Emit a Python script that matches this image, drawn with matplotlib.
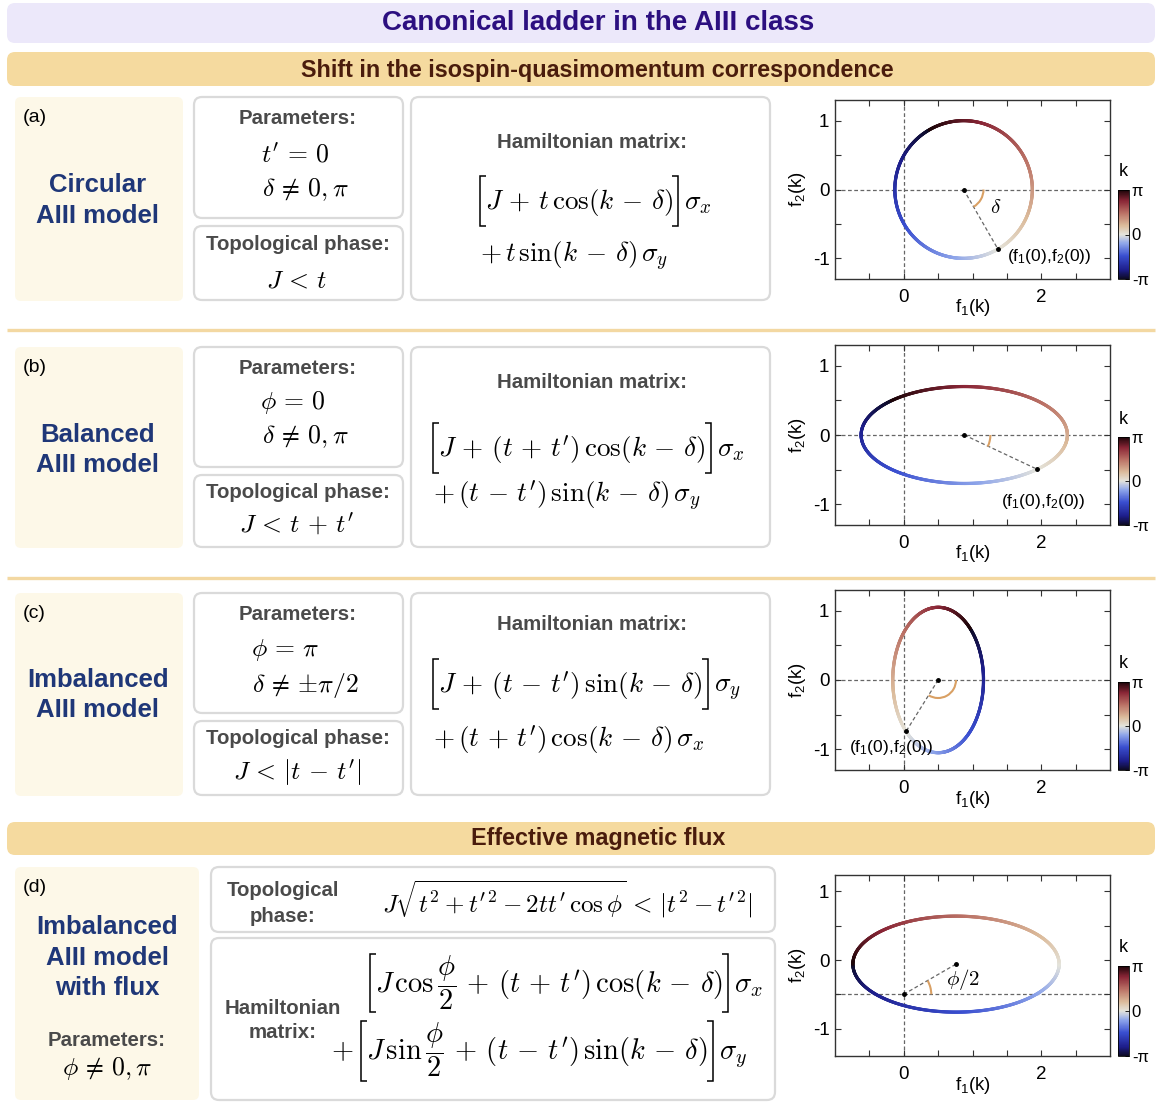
import numpy as np
import matplotlib
matplotlib.use('Agg')
import matplotlib.pyplot as plt
from matplotlib.patches import FancyBboxPatch, Arc
from matplotlib.collections import LineCollection
from matplotlib.colors import LinearSegmentedColormap, Normalize
from matplotlib.cm import ScalarMappable

W, H = 1161, 1107

plt.rcParams['font.family'] = ['Liberation Sans', 'DejaVu Sans']
plt.rcParams['mathtext.fontset'] = 'cm'
plt.rcParams['mathtext.rm'] = 'Liberation Sans'
plt.rcParams['mathtext.it'] = 'Liberation Sans:italic'
plt.rcParams['mathtext.bf'] = 'Liberation Sans:bold'

# ---- content ----
title = 'Canonical ladder in the AIII class'
section_titles = ['Shift in the isospin-quasimomentum correspondence', 'Effective magnetic flux']
panel_labels = ['(a)', '(b)', '(c)', '(d)']
model_names = [['Circular', 'AIII model'], ['Balanced', 'AIII model'],
               ['Imbalanced', 'AIII model'], ['Imbalanced', 'AIII model', 'with flux']]
params = [[r"$t' \,=\, 0$", r'$\delta \,\neq\, 0, \pi$'],
          [r'$\phi \,=\, 0$', r'$\delta \,\neq\, 0, \pi$'],
          [r'$\phi \,=\, \pi$', r'$\delta \,\neq\, {\pm}\pi/2$'],
          [r'$\phi \,\neq\, 0, \pi$']]
topo = [r'$J \,<\, t$', r"$J \,<\, t \,+\, t'$", r"$J \,<\, |t \,-\, t'|$",
        r"$J\sqrt{t^2+t'^2-2tt'\,\cos\phi} \,<\, |t^2-t'^2|$"]
ham_first = [r'$J \,+\, t\,\cos(k \,-\, \delta)$',
             r"$J \,+\, (t \,+\, t')\,\cos(k \,-\, \delta)$",
             r"$J \,+\, (t \,-\, t')\,\sin(k \,-\, \delta)$",
             r"$J\,\cos\dfrac{\phi}{2} \,+\, (t \,+\, t')\,\cos(k \,-\, \delta)$"]
ham_first_pauli = [r'$\sigma_x$', r'$\sigma_x$', r'$\sigma_y$', r'$\sigma_x$']
ham_second = [r'$+\,t\,\sin(k \,-\, \delta)\,\sigma_y$',
              r"$+\,(t \,-\, t')\,\sin(k \,-\, \delta)\,\sigma_y$",
              r"$+\,(t \,+\, t')\,\cos(k \,-\, \delta)\,\sigma_x$",
              r"$J\,\sin\dfrac{\phi}{2} \,+\, (t \,-\, t')\,\sin(k \,-\, \delta)$"]

# curve parameters: centre, semi-axes, shift delta, winding
centre_f1 = [0.87, 0.88, 0.50, 0.76]
centre_f2 = [0.0, 0.0, 0.0, -0.06]
semi_f1 = [1.0, 1.5, 0.66, 1.5]
semi_f2 = [1.0, 0.7, 1.05, 0.7]
shift = [np.pi / 3, np.pi / 4, -3 * np.pi / 4, 0.0]
winding = [1, 1, -1, 1]
origin_f2 = [0.0, 0.0, 0.0, -0.5]
arc_radius = [0.29, 0.38, 0.26, 0.40]
arc_from = [-60, -26, -122, 0]
arc_to = [0, 0, 0, 30]
angle_labels = [r'$\delta$', None, None, r'$\phi/2$']
angle_label_xy = [(1.25, -0.26), None, None, (0.62, -0.29)]
point_label_xy = [(1.5, -0.98), (1.42, -0.96), (-0.79, -0.98), None]

x_ticks = [-0.5, 0, 0.5, 1, 1.5, 2, 2.5]
x_ticklabels = ['', '0', '', '', '', '2', '']
y_ticks = [-1, -0.5, 0, 0.5, 1]
y_ticklabels = ['-1', '', '0', '', '1']

cmap = LinearSegmentedColormap.from_list('kmap', [
    (0.00, '#0c0a22'), (0.10, '#1d1d8a'), (0.26, '#3a4fd0'), (0.40, '#8fa6ea'),
    (0.50, '#e4e4dc'), (0.60, '#dcbc9c'), (0.74, '#bb7266'), (0.88, '#8a2636'),
    (1.00, '#1c0408')])

NAVY = '#1f3778'
GREY = '#4a4a4a'
BORDER = '#dadada'
CREAM = '#fdf8e8'
TAN = '#f5da9f'

fig = plt.figure(figsize=(W / 100, H / 100), dpi=100)
bg = fig.add_axes([0, 0, 1, 1])
bg.set_xlim(0, W)
bg.set_ylim(H, 0)
bg.axis('off')
renderer = fig.canvas.get_renderer()


def box(x0, y0, x1, y1, fc, ec='none', lw=0.0, r=8):
    bg.add_patch(FancyBboxPatch((x0, y0), x1 - x0, y1 - y0,
                                boxstyle=f'round,pad=0,rounding_size={r}',
                                fc=fc, ec=ec, lw=lw))


def label(x, y, s, size=14.7, color=GREY, weight='bold', ha='center', **kw):
    return bg.text(x, y, s, fontsize=size, color=color, weight=weight, ha=ha, va='center', **kw)


def bracket(x, top, bot, side):
    arm = 6 if side == 'left' else -6
    bg.plot([x + arm, x, x, x + arm], [top, top, bot, bot], color='black', lw=1.1,
            solid_joinstyle='miter', solid_capstyle='butt')


def bracket_line(x, base, inner, after, size, top, bot):
    bracket(x, base - top, base + bot, 'left')
    t = bg.text(x + 5, base, inner, fontsize=size, va='baseline', ha='left')
    xr = t.get_window_extent(renderer).x1 + 5
    bracket(xr, base - top, base + bot, 'right')
    bg.text(xr + 6, base, after, fontsize=size, va='baseline', ha='left')


# ---- headers ----
box(7, 3, 1155, 43, '#ece8fa')
bg.text(598, 23, title, fontsize=20, weight='bold', color='#2c0f80', ha='center', va='center')
box(7, 52, 1155, 86, TAN)
bg.text(597, 70, section_titles[0], fontsize=16.8, weight='bold', color='#4a1c0c', ha='center',
        va='center')
for ys in [330, 578]:
    bg.plot([7, 1155], [ys, ys], color='#f3d8a2', lw=2.4, solid_capstyle='butt')
box(7, 822, 1155, 855, TAN)
bg.text(598, 838, section_titles[1], fontsize=16.8, weight='bold', color='#4a1c0c', ha='center',
        va='center')

# ---- rows (a)-(c) ----
row_top = [97, 347, 593]
row_bot = [301, 548, 796]
param_bot = [218, 467, 713]
name_y = [(185, 216), (435, 465), (680, 710)]
param_y = [(155, 190), (402, 437), (650, 685)]
param_x = [(295, 305), (293, 305), (285, 305)]
topo_label_y = [245, 492, 738]
topo_y = [280, 525, 773]
ham_label_y = [142, 382, 625]
ham_x = [480, 433, 433]
ham_base = [(209, 262), (456, 502), (692, 746)]

for i in range(3):
    y0, y1 = row_top[i], row_bot[i]
    box(15, y0, 183, y1, CREAM, r=6)
    bg.text(23, y0 + 21, panel_labels[i], fontsize=14, ha='left', va='center')
    for s, yy in zip(model_names[i], name_y[i]):
        label(98, yy, s, size=18.5, color=NAVY)
    box(194, y0, 403, param_bot[i], 'white', BORDER, 1.6)
    box(194, param_bot[i] + 8, 403, y1 - 1, 'white', BORDER, 1.6)
    label(298, y0 + 22, 'Parameters:')
    for s, xx, yy in zip(params[i], param_x[i], param_y[i]):
        bg.text(xx, yy, s, fontsize=18.5, ha='center', va='center')
    label(298, topo_label_y[i], 'Topological phase:')
    bg.text(297, topo_y[i], topo[i], fontsize=18.5, ha='center', va='center')
    box(411, y0, 770, y1 - 1, 'white', BORDER, 1.6)
    label(592, ham_label_y[i], 'Hamiltonian matrix:')
    bracket_line(ham_x[i], ham_base[i][0], ham_first[i], ham_first_pauli[i], 19.5, 33, 17)
    bg.text(ham_x[i], ham_base[i][1], ham_second[i], fontsize=19.5, ha='left', va='baseline')

# ---- row (d) ----
box(15, 867, 199, 1100, CREAM, r=6)
bg.text(23, 888, panel_labels[3], fontsize=14, ha='left', va='center')
for s, yy in zip(model_names[3], [927, 958, 988]):
    label(107, yy, s, size=18.5, color=NAVY)
label(107, 1040, 'Parameters:')
bg.text(107, 1068, params[3][0], fontsize=18.5, ha='center', va='center')
box(211, 867, 775, 932, 'white', BORDER, 1.6)
label(283, 890, 'Topological')
label(283, 916, 'phase:')
bg.text(382, 899, topo[3], fontsize=18, ha='left', va='center')
box(211, 938, 775, 1100, 'white', BORDER, 1.6)
label(283, 1008, 'Hamiltonian')
label(283, 1032, 'matrix:')
bracket_line(370, 992, ham_first[3], ham_first_pauli[3], 20.5, 38, 20)
bg.text(331, 1059, r'$+$', fontsize=20.5, ha='left', va='baseline')
bracket_line(361, 1059, ham_second[3], r'$\sigma_y$', 20.5, 38, 22)

# ---- plots ----
plot_top = [100, 345, 590, 875]
plot_bot = [279, 525, 770, 1056]
plot_x0, plot_x1 = 835, 1110
ylims = [(-1.3, 1.3), (-1.3, 1.3), (-1.3, 1.3), (-1.4, 1.24)]
cbar_top = [190, 437, 682, 966]
k = np.linspace(-np.pi, np.pi, 721)
norm = Normalize(-np.pi, np.pi)
dash = (0, (3, 2))

for i in range(4):
    ax = fig.add_axes([plot_x0 / W, 1 - plot_bot[i] / H, (plot_x1 - plot_x0) / W,
                       (plot_bot[i] - plot_top[i]) / H])
    ax.set_xlim(-1, 3)
    ax.set_ylim(*ylims[i])
    ax.axvline(0, color='#666666', lw=0.9, ls=dash, zorder=1)
    ax.axhline(origin_f2[i], color='#666666', lw=0.9, ls=dash, zorder=1)

    f1 = centre_f1[i] + semi_f1[i] * np.cos(k - shift[i])
    f2 = centre_f2[i] + winding[i] * semi_f2[i] * np.sin(k - shift[i])
    pts = np.column_stack([f1, f2]).reshape(-1, 1, 2)
    segs = np.concatenate([pts[:-1], pts[1:]], axis=1)
    lc = LineCollection(segs, cmap=cmap, norm=norm, lw=2.3, capstyle='round', zorder=3)
    lc.set_array(0.5 * (k[:-1] + k[1:]))
    ax.add_collection(lc)

    if i < 3:
        c = (centre_f1[i], centre_f2[i])
        p0 = (f1[360], f2[360])  # k = 0
    else:
        c = (0.0, origin_f2[i])
        p0 = (centre_f1[i], centre_f2[i])
    ax.plot([c[0], p0[0]], [c[1], p0[1]], color='#666666', lw=0.9, ls=dash, zorder=2)
    ax.plot([c[0], p0[0]], [c[1], p0[1]], 'o', color='black', ms=2.5, zorder=4)
    ax.add_patch(Arc(c, 2 * arc_radius[i], 2 * arc_radius[i], theta1=arc_from[i],
                     theta2=arc_to[i], color='#d9a064', lw=1.5, zorder=3))
    if angle_labels[i]:
        ax.text(*angle_label_xy[i], angle_labels[i], fontsize=15, ha='left', va='center')
    if point_label_xy[i]:
        ax.text(*point_label_xy[i], '(f$_1$(0),f$_2$(0))', fontsize=12.5, ha='left',
                va='center', math_fontfamily='custom')

    ax.set_xticks(x_ticks)
    ax.set_xticklabels(x_ticklabels)
    ax.set_yticks(y_ticks)
    ax.set_yticklabels(y_ticklabels)
    ax.tick_params(direction='in', top=True, right=True, length=4, width=0.8,
                   labelsize=13.5, color='#333333')
    ax.tick_params(axis='x', pad=7)
    ax.tick_params(axis='y', pad=4)
    for sp in ax.spines.values():
        sp.set_linewidth(1.0)
        sp.set_color('#333333')
    bg.text((plot_x0 + plot_x1) / 2, plot_bot[i] + 29, 'f$_1$(k)', fontsize=13.5,
            ha='center', va='center', math_fontfamily='custom')
    bg.text(797, (plot_top[i] + plot_bot[i]) / 2, 'f$_2$(k)', fontsize=13.5, rotation=90,
            ha='center', va='center', math_fontfamily='custom')

    cax = fig.add_axes([1118 / W, 1 - plot_bot[i] / H, 11 / W, (plot_bot[i] - cbar_top[i]) / H])
    cb = fig.colorbar(ScalarMappable(norm, cmap), cax=cax, ticks=[-np.pi, 0, np.pi])
    cb.ax.set_yticklabels(['-π', '0', 'π'])
    cb.outline.set_linewidth(0.6)
    cax.tick_params(direction='in', length=3, width=0.6, labelsize=12, pad=2)
    bg.text(1123, cbar_top[i] - 18, 'k', fontsize=13, ha='center', va='center')

fig.savefig('out.png', dpi=100)
